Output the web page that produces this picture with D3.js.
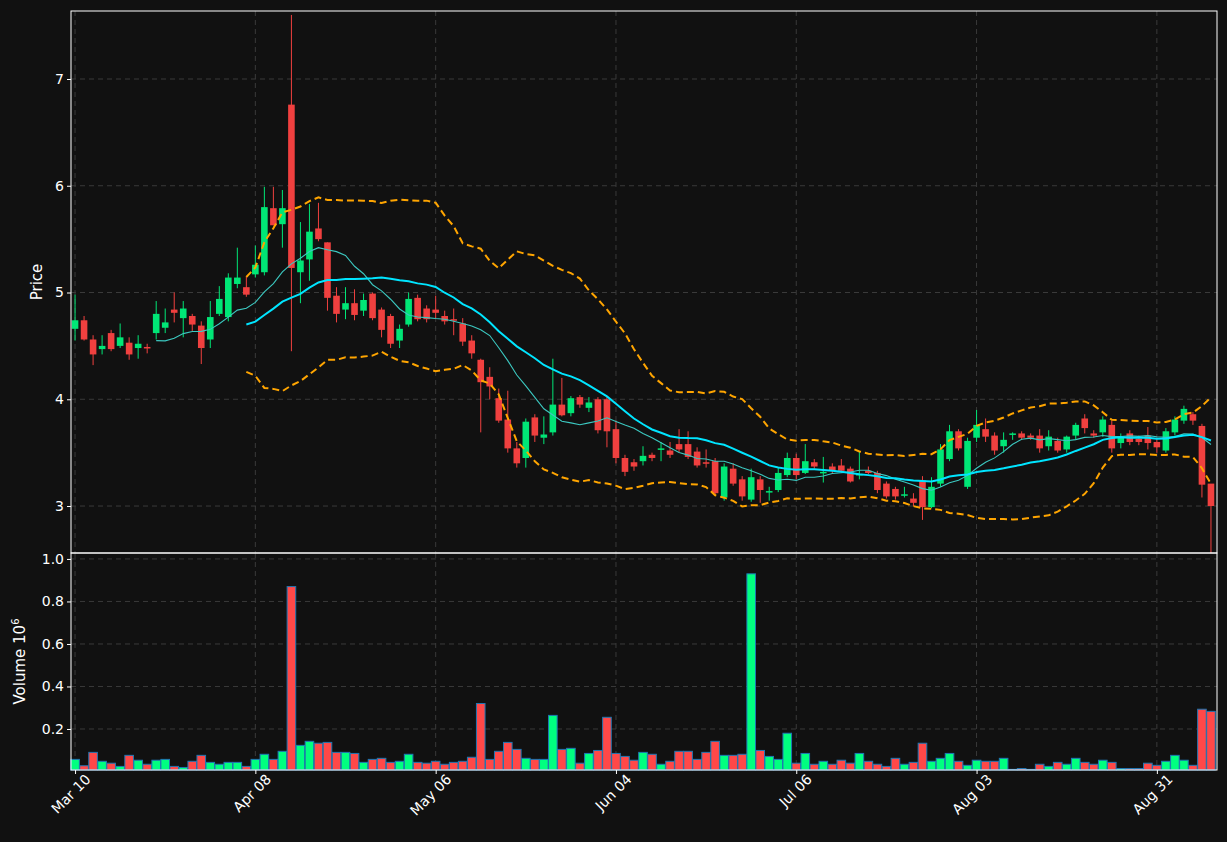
<!DOCTYPE html>
<html><head><meta charset="utf-8">
<script src="https://cdn.jsdelivr.net/npm/d3@7"></script>
<style>body{margin:0;background:#111111}svg{display:block}text{font-family:"DejaVu Sans",sans-serif}</style>
</head><body><svg id="c" width="1227" height="842"></svg>
<script>
const opens=[4.66,4.74,4.56,4.47,4.62,4.50,4.53,4.48,4.49,4.62,4.67,4.84,4.76,4.78,4.69,4.56,4.80,4.77,5.08,5.05,
5.17,5.19,5.79,5.64,6.76,5.19,5.31,5.60,5.47,4.97,4.84,4.90,4.83,4.99,4.84,4.78,4.55,4.70,4.95,4.85,
4.84,4.78,4.75,4.71,4.55,4.37,4.21,4.01,3.81,3.54,3.45,3.83,3.64,3.69,3.95,3.87,4.02,3.92,4.00,4.00,
3.72,3.45,3.41,3.42,3.48,3.53,3.52,3.58,3.58,3.51,3.41,3.42,3.08,3.35,3.25,3.06,3.25,3.13,3.15,3.29,
3.45,3.31,3.41,3.31,3.37,3.38,3.35,3.29,3.33,3.31,3.21,3.16,3.10,3.07,3.24,2.99,3.21,3.44,3.70,3.18,
3.64,3.72,3.66,3.56,3.67,3.68,3.66,3.66,3.56,3.61,3.53,3.66,3.82,3.68,3.69,3.76,3.59,3.68,3.63,3.66,
3.60,3.52,3.69,3.80,3.86,3.75,3.21];
const closes=[4.74,4.56,4.42,4.50,4.47,4.58,4.42,4.52,4.48,4.80,4.72,4.81,4.85,4.70,4.48,4.77,4.94,5.14,5.14,4.98,
5.26,5.80,5.63,5.79,5.23,5.30,5.57,5.50,4.95,4.80,4.90,4.79,4.93,4.76,4.65,4.52,4.66,4.94,4.75,4.75,
4.81,4.73,4.74,4.54,4.43,4.16,4.12,3.80,3.54,3.40,3.79,3.66,3.67,3.95,3.85,4.01,3.95,3.97,3.71,3.70,
3.45,3.32,3.37,3.47,3.45,3.54,3.48,3.53,3.46,3.38,3.40,3.12,3.37,3.21,3.09,3.27,3.15,3.14,3.31,3.45,
3.29,3.42,3.37,3.32,3.33,3.33,3.23,3.30,3.31,3.15,3.09,3.09,3.11,3.03,2.99,3.18,3.53,3.70,3.54,3.61,
3.76,3.65,3.52,3.62,3.68,3.64,3.64,3.54,3.65,3.52,3.65,3.76,3.73,3.66,3.81,3.54,3.65,3.60,3.60,3.59,
3.55,3.70,3.81,3.91,3.80,3.20,3.00];
const highs=[4.98,4.78,4.60,4.60,4.65,4.71,4.58,4.60,4.52,4.92,4.85,5.00,4.92,4.80,4.73,4.92,5.06,5.18,5.42,5.15,
5.44,5.99,5.99,5.96,7.60,5.66,5.83,5.84,5.47,5.05,5.05,5.03,4.99,5.00,4.86,4.80,4.70,5.00,4.98,4.88,
4.97,4.83,4.85,4.76,4.60,4.38,4.30,4.10,4.08,3.60,3.82,3.86,3.84,4.38,4.20,4.03,4.04,4.02,4.02,4.02,
3.80,3.48,3.44,3.56,3.50,3.60,3.60,3.72,3.70,3.55,3.53,3.45,3.40,3.40,3.28,3.35,3.28,3.18,3.36,3.50,
3.49,3.58,3.44,3.46,3.40,3.44,3.37,3.51,3.37,3.33,3.23,3.18,3.18,3.12,3.28,3.27,3.58,3.76,3.72,3.64,
3.90,3.82,3.69,3.69,3.69,3.70,3.68,3.72,3.71,3.64,3.66,3.78,3.86,3.71,3.84,3.80,3.68,3.71,3.66,3.74,
3.64,3.73,3.84,3.94,3.88,3.77,3.10];
const lows=[4.55,4.55,4.32,4.42,4.45,4.48,4.37,4.38,4.43,4.56,4.62,4.72,4.58,4.64,4.33,4.48,4.78,4.73,5.04,4.96,
5.14,5.16,5.63,5.42,4.45,4.90,5.11,5.48,4.83,4.72,4.75,4.74,4.78,4.74,4.58,4.48,4.48,4.68,4.73,4.72,
4.76,4.70,4.60,4.50,4.38,3.69,4.00,3.78,3.50,3.36,3.36,3.60,3.58,3.66,3.84,3.84,3.92,3.88,3.68,3.55,
3.40,3.28,3.33,3.38,3.42,3.42,3.45,3.50,3.44,3.36,3.36,3.10,3.05,3.19,3.05,3.04,3.03,3.05,3.13,3.27,
3.25,3.30,3.35,3.22,3.30,3.31,3.22,3.25,3.30,3.12,3.07,3.06,3.08,3.00,2.87,2.98,3.18,3.42,3.52,3.16,
3.60,3.60,3.48,3.50,3.62,3.62,3.62,3.50,3.52,3.50,3.50,3.62,3.68,3.64,3.65,3.50,3.54,3.57,3.57,3.53,
3.50,3.50,3.66,3.77,3.76,3.08,2.52];
const volumes=[0.057,0.027,0.09,0.048,0.039,0.024,0.076,0.053,0.034,0.053,0.057,0.024,0.019,0.048,0.076,0.043,0.034,0.043,0.043,0.024,
0.057,0.081,0.057,0.095,0.87,0.123,0.142,0.133,0.137,0.09,0.09,0.085,0.043,0.057,0.062,0.043,0.048,0.081,0.043,0.039,
0.048,0.034,0.043,0.048,0.067,0.32,0.057,0.095,0.137,0.104,0.062,0.057,0.057,0.264,0.104,0.109,0.039,0.085,0.099,0.255,
0.085,0.071,0.053,0.09,0.081,0.034,0.048,0.095,0.095,0.057,0.09,0.142,0.076,0.076,0.081,0.93,0.099,0.071,0.057,0.18,
0.039,0.085,0.034,0.048,0.034,0.053,0.039,0.085,0.048,0.034,0.024,0.062,0.034,0.043,0.133,0.048,0.062,0.085,0.048,0.029,
0.053,0.048,0.048,0.062,0.01,0.014,0.01,0.034,0.024,0.043,0.034,0.062,0.043,0.034,0.053,0.043,0.014,0.014,0.014,0.039,
0.029,0.048,0.076,0.053,0.029,0.293,0.283];
const tickIdx=[0,20,40,60,80,100,120];
const tickLabels=["Mar 10","Apr 08","May 06","Jun 04","Jul 06","Aug 03","Aug 31"];
const priceTicks=[3,4,5,6,7];
const volTicks=[0.2,0.4,0.6,0.8,1.0];

const svg=d3.select("#c");
const L=71,R=1217,PT=11,PB=553,VB=770;
const n=closes.length;
const x=d3.scaleLinear().domain([-0.45,126.67]).range([L,R]);
const y=d3.scaleLinear().domain([2.56,7.637]).range([PB,PT]);
const yv=d3.scaleLinear().domain([0,1.028]).range([771.5,PB]);
const GREEN="#00e676",RED="#f0403f",VG="#00ff80",VR="#ff4848";

function ma(k){return closes.map((_,i)=>i<k-1?null:d3.mean(closes.slice(i-k+1,i+1)));}
const ma10=ma(10),ma20=ma(20);
const bbU=[],bbL=[];
closes.forEach((_,i)=>{if(i<19){bbU.push(null);bbL.push(null);return;}
 const s=closes.slice(i-19,i+1),m=d3.mean(s),sd=Math.sqrt(d3.mean(s.map(v=>(v-m)**2)));
 bbU.push(m+2*sd);bbL.push(m-2*sd);});

svg.append("rect").attr("width",1227).attr("height",842).attr("fill","#111111");
const grid=svg.append("g").attr("stroke","#3a3a3a").attr("stroke-dasharray","5,4").attr("stroke-width",1);
priceTicks.forEach(t=>grid.append("line").attr("x1",L).attr("x2",R).attr("y1",y(t)).attr("y2",y(t)));
volTicks.forEach(t=>grid.append("line").attr("x1",L).attr("x2",R).attr("y1",yv(t)).attr("y2",yv(t)));
tickIdx.forEach(t=>{grid.append("line").attr("x1",x(t)).attr("x2",x(t)).attr("y1",PT).attr("y2",PB);
 grid.append("line").attr("x1",x(t)).attr("x2",x(t)).attr("y1",PB).attr("y2",VB);});

svg.append("clipPath").attr("id","cp").append("rect").attr("x",L).attr("y",PT).attr("width",R-L).attr("height",PB-PT);
const pg=svg.append("g").attr("clip-path","url(#cp)");
const idx=d3.range(n);
pg.selectAll(".w").data(idx).join("line").attr("x1",i=>x(i)).attr("x2",i=>x(i))
 .attr("y1",i=>y(highs[i])).attr("y2",i=>y(lows[i])).attr("stroke",i=>closes[i]>=opens[i]?GREEN:RED).attr("stroke-width",1);
pg.selectAll(".b").data(idx).join("rect").attr("x",i=>x(i)-3.3).attr("width",6.6)
 .attr("y",i=>y(Math.max(opens[i],closes[i]))).attr("height",i=>Math.max(1.5,Math.abs(y(opens[i])-y(closes[i]))))
 .attr("fill",i=>closes[i]>=opens[i]?GREEN:RED);
const line=d3.line().defined(d=>d!=null).x((d,i)=>x(i)).y(d=>y(d));
pg.append("path").datum(ma10).attr("d",line).attr("fill","none").attr("stroke","#3cc8c0").attr("stroke-width",1.1);
pg.append("path").datum(ma20).attr("d",line).attr("fill","none").attr("stroke","#00e5ff").attr("stroke-width",2);
[bbU,bbL].forEach(b=>pg.append("path").datum(b).attr("d",line).attr("fill","none").attr("stroke","#ffa500").attr("stroke-width",2).attr("stroke-dasharray","7,4"));

svg.selectAll(".v").data(idx).join("rect").attr("x",i=>x(i)-4.3).attr("width",8.6)
 .attr("y",i=>yv(volumes[i])).attr("height",i=>Math.max(0,VB-yv(volumes[i])))
 .attr("fill",i=>closes[i]>=opens[i]?VG:VR).attr("stroke","#1f77b4").attr("stroke-width",1);

[[PT,PB],[PB,VB]].forEach(([a,b])=>svg.append("rect").attr("x",L).attr("y",a).attr("width",R-L).attr("height",b-a).attr("fill","none").attr("stroke","#ffffff").attr("stroke-width",1));

const ax1=svg.append("g").attr("transform",`translate(${L},0)`).call(d3.axisLeft(y).tickValues(priceTicks).tickSize(4).tickFormat(d3.format("d")));
const ax2=svg.append("g").attr("transform",`translate(${L},0)`).call(d3.axisLeft(yv).tickValues(volTicks).tickSize(4).tickFormat(d3.format(".1f")));
const ax3=svg.append("g").attr("transform",`translate(0,${VB})`).call(d3.axisBottom(x).tickValues(tickIdx).tickSize(4).tickFormat((d,i)=>tickLabels[i]));
[ax1,ax2,ax3].forEach(a=>{a.select(".domain").remove();a.selectAll("line").attr("stroke","#fff");a.selectAll("text").attr("fill","#fff").attr("font-size",14).attr("font-family","DejaVu Sans");});
ax3.selectAll("text").attr("text-anchor","end").attr("dx","0.3em").attr("dy","0.9em").attr("transform","rotate(-45)").attr("x",0).attr("y",6);

svg.append("text").attr("transform",`translate(42,${(PT+PB)/2}) rotate(-90)`).attr("text-anchor","middle").attr("fill","#fff").attr("font-size",15).text("Price");
const vl=svg.append("text").attr("transform",`translate(25,${(PB+VB)/2}) rotate(-90)`).attr("text-anchor","middle").attr("fill","#fff").attr("font-size",15);
vl.append("tspan").text("Volume  10");
vl.append("tspan").attr("font-size",10).attr("dy","-6").text("6");
</script></body></html>
